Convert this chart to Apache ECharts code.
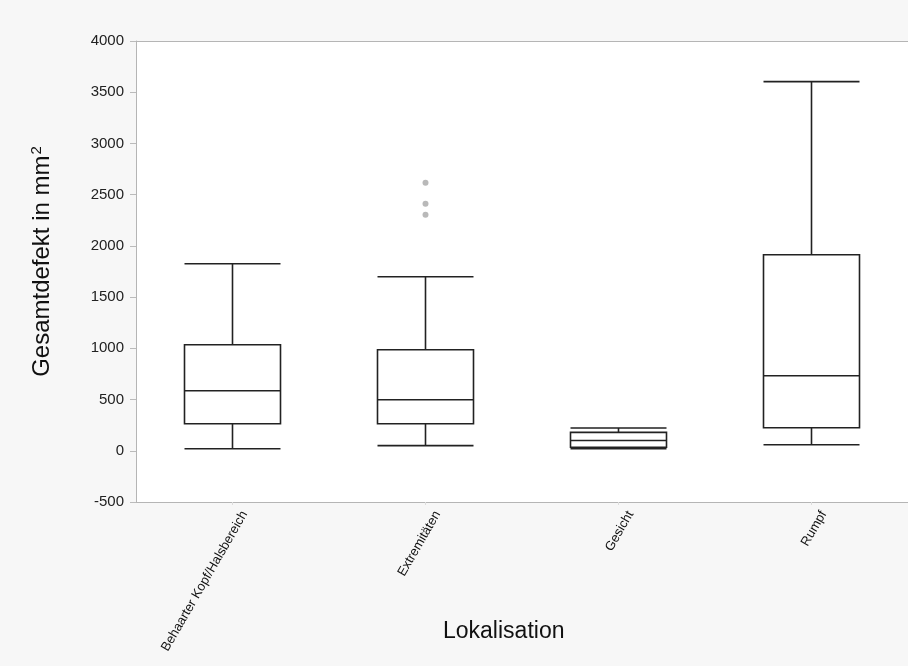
<!DOCTYPE html>
<html>
<head>
<meta charset="utf-8">
<script src="https://cdn.jsdelivr.net/npm/echarts@6/dist/echarts.min.js"></script>
<style>
html,body{margin:0;padding:0;background:#f7f7f7;}
#chart{width:908px;height:666px;}
</style>
</head>
<body>
<div id="chart"></div>
<script>
var categories = ['Behaarter Kopf/Halsbereich', 'Extremitäten', 'Gesicht', 'Rumpf'];
// [min, Q1, median, Q3, max]
var boxValues = [
  [20, 264, 586, 1035, 1826],
  [50, 264, 498, 986, 1699],
  [20, 35, 100, 180, 222],
  [59, 225, 732, 1914, 3603]
];
var outliers = [
  ['Extremitäten', 2617],
  ['Extremitäten', 2412],
  ['Extremitäten', 2305]
];
var yTicks = [-500, 0, 500, 1000, 1500, 2000, 2500, 3000, 3500, 4000];

var chart = echarts.init(document.getElementById('chart'));
var font = 'Liberation Sans, Arial, sans-serif';
chart.setOption({
  backgroundColor: '#f7f7f7',
  textStyle: {fontFamily: font},
  grid: {left: 136, top: 41, width: 776, height: 461, show: true, backgroundColor: '#ffffff', borderWidth: 0},
  xAxis: [{
    type: 'category',
    data: categories,
    boundaryGap: true,
    axisLine: {show: true, onZero: false, lineStyle: {color: '#b5b5b5', width: 1}},
    axisTick: {show: true, alignWithLabel: true, length: 3, lineStyle: {color: '#dddddd'}},
    axisLabel: {rotate: 60, fontSize: 13, color: '#111', margin: 3, fontFamily: font, interval: 0,
      formatter: function (v) { return '{a|' + v + '}'; },
      rich: {a: {fontSize: 13, color: '#111', fontFamily: font, padding: [28, 0, 0, 0]}}},
    splitLine: {show: false}
  }, {
    type: 'category',
    data: categories,
    position: 'top',
    axisLine: {show: true, onZero: false, lineStyle: {color: '#b5b5b5', width: 1}},
    axisTick: {show: false},
    axisLabel: {show: false}
  }],
  yAxis: {
    type: 'value',
    min: yTicks[0],
    max: yTicks[yTicks.length - 1],
    interval: 500,
    name: 'Gesamtdefekt in mm{sup|2}',
    nameLocation: 'middle',
    nameRotate: 90,
    nameGap: 80,
    nameTextStyle: {fontSize: 24, color: '#111', fontFamily: font, padding: [0, 0, 0, 20],
      rich: {sup: {fontSize: 15, verticalAlign: 'top', padding: [0, 0, 12, 1], color: '#111', fontFamily: font}}},
    axisLine: {show: true, lineStyle: {color: '#b5b5b5', width: 1}},
    axisTick: {show: true, length: 6, lineStyle: {color: '#bbbbbb'}},
    axisLabel: {fontSize: 15, color: '#222', margin: 12, fontFamily: font, formatter: function (v) { return String(v); }},
    splitLine: {show: false}
  },
  graphic: [{
    type: 'text',
    left: 443,
    top: 620,
    style: {text: 'Lokalisation', font: '23px ' + font, fill: '#111'}
  }],
  series: [{
    type: 'boxplot',
    data: boxValues,
    boxWidth: [96, 96],
    itemStyle: {color: '#ffffff', borderColor: '#222222', borderWidth: 1.6},
    silent: true
  }, {
    type: 'scatter',
    data: outliers,
    symbolSize: 6,
    itemStyle: {color: '#a8a8a8'},
    silent: true
  }]
});
</script>
</body>
</html>
